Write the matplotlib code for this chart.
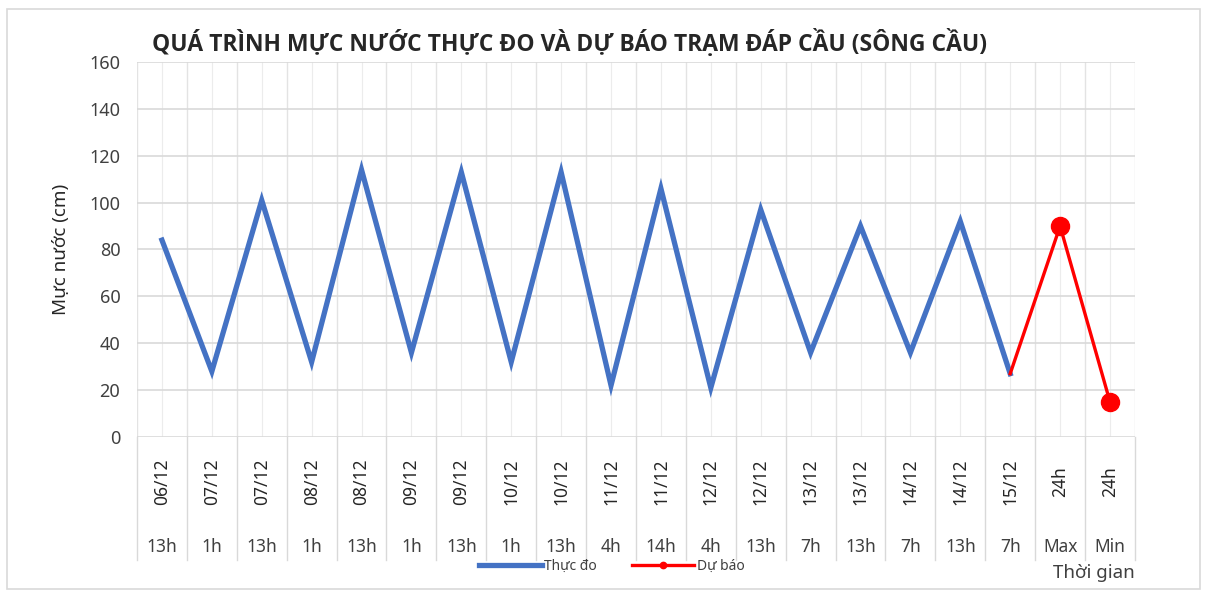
import matplotlib
matplotlib.use('Agg')
import matplotlib.pyplot as plt
import matplotlib.transforms as mtransforms
from matplotlib.patches import Rectangle
import numpy as np

plt.rcParams['font.family'] = ['Noto Sans', 'DejaVu Sans']

dates = ['06/12', '07/12', '07/12', '08/12', '08/12', '09/12', '09/12', '10/12',
         '10/12', '11/12', '11/12', '12/12', '12/12', '13/12', '13/12', '14/12',
         '14/12', '15/12', '24h', '24h']
hours = ['13h', '1h', '13h', '1h', '13h', '1h', '13h', '1h', '13h', '4h',
         '14h', '4h', '13h', '7h', '13h', '7h', '13h', '7h', 'Max', 'Min']
thuc_do = [84, 28, 101, 32, 114, 36, 113, 32, 113, 22,
           106, 21, 97, 36, 90, 36, 92, 27, None, None]
du_bao = [None] * 17 + [27, 90, 15]

x = np.arange(len(dates))
obs = np.array([np.nan if v is None else v for v in thuc_do], dtype=float)
fc = np.array([np.nan if v is None else v for v in du_bao], dtype=float)

fig = plt.figure(figsize=(12.07, 5.91), dpi=100)
fig.patches.append(Rectangle((0.006, 0.003), 0.988, 0.982, transform=fig.transFigure,
                             fill=False, edgecolor='#d9d9d9', linewidth=1.2))
ax = fig.add_axes([0.1135, 0.2606, 0.8268, 0.6345])

ax.plot(x, obs, color='#4472C4', linewidth=3.8, solid_joinstyle='miter',
        label='Thực đo', zorder=3)
ax.plot(x, fc, color='#FF0000', linewidth=2.4, marker='o', markersize=13,
        markevery=[18, 19], label='Dự báo', zorder=4)

ax.set_xlim(-0.5, len(dates) - 0.5)
ax.set_ylim(0, 160)
ax.set_yticks(range(0, 161, 20))
ax.tick_params(axis='y', length=0, labelsize=13, pad=12, labelcolor='#404040')
ax.set_xticks([])
for s in ax.spines.values():
    s.set_visible(False)
ax.grid(axis='y', color='#d9d9d9', linewidth=1.2)
ax.set_axisbelow(True)

# vertical grid: category boundaries and centres
for b in np.arange(-0.5, len(dates), 1.0):
    ax.axvline(b, color='#e3e3e3', linewidth=1, zorder=0)
    ax.plot([b, b], [0, -0.328], transform=ax.get_xaxis_transform(),
            color='#d9d9d9', linewidth=1, clip_on=False)
for c in x:
    ax.axvline(c, color='#ececec', linewidth=0.8, zorder=0)

trans = mtransforms.blended_transform_factory(ax.transData, ax.transAxes)
for i in x:
    ax.text(i, -0.12, dates[i], rotation=90, ha='center', va='center',
            fontsize=12.5, color='#262626', fontweight='medium', transform=trans)
    ax.text(i, -0.293, hours[i], ha='center', va='center',
            fontsize=12.5, color='#404040', transform=trans)

ax.set_ylabel('Mực nước (cm)', fontsize=13.5, color='#262626', labelpad=14)
fig.text(0.472, 0.928, 'QUÁ TRÌNH MỰC NƯỚC THỰC ĐO VÀ DỰ BÁO TRẠM ĐÁP CẦU (SÔNG CẦU)',
         ha='center', va='center', fontsize=16.5, fontweight='bold', color='#262626',
         family=['Open Sans', 'Noto Sans', 'DejaVu Sans'])
fig.text(0.94, 0.03, 'Thời gian', ha='right', va='center', fontsize=13.5,
         color='#404040')

fig.legend(loc='center', bbox_to_anchor=(0.507, 0.041), ncol=2, frameon=False,
           fontsize=10, handlelength=4.5, handletextpad=0.2, columnspacing=2.5,
           labelcolor='#404040', markerscale=0.35)

fig.savefig('out.png', dpi=100)
